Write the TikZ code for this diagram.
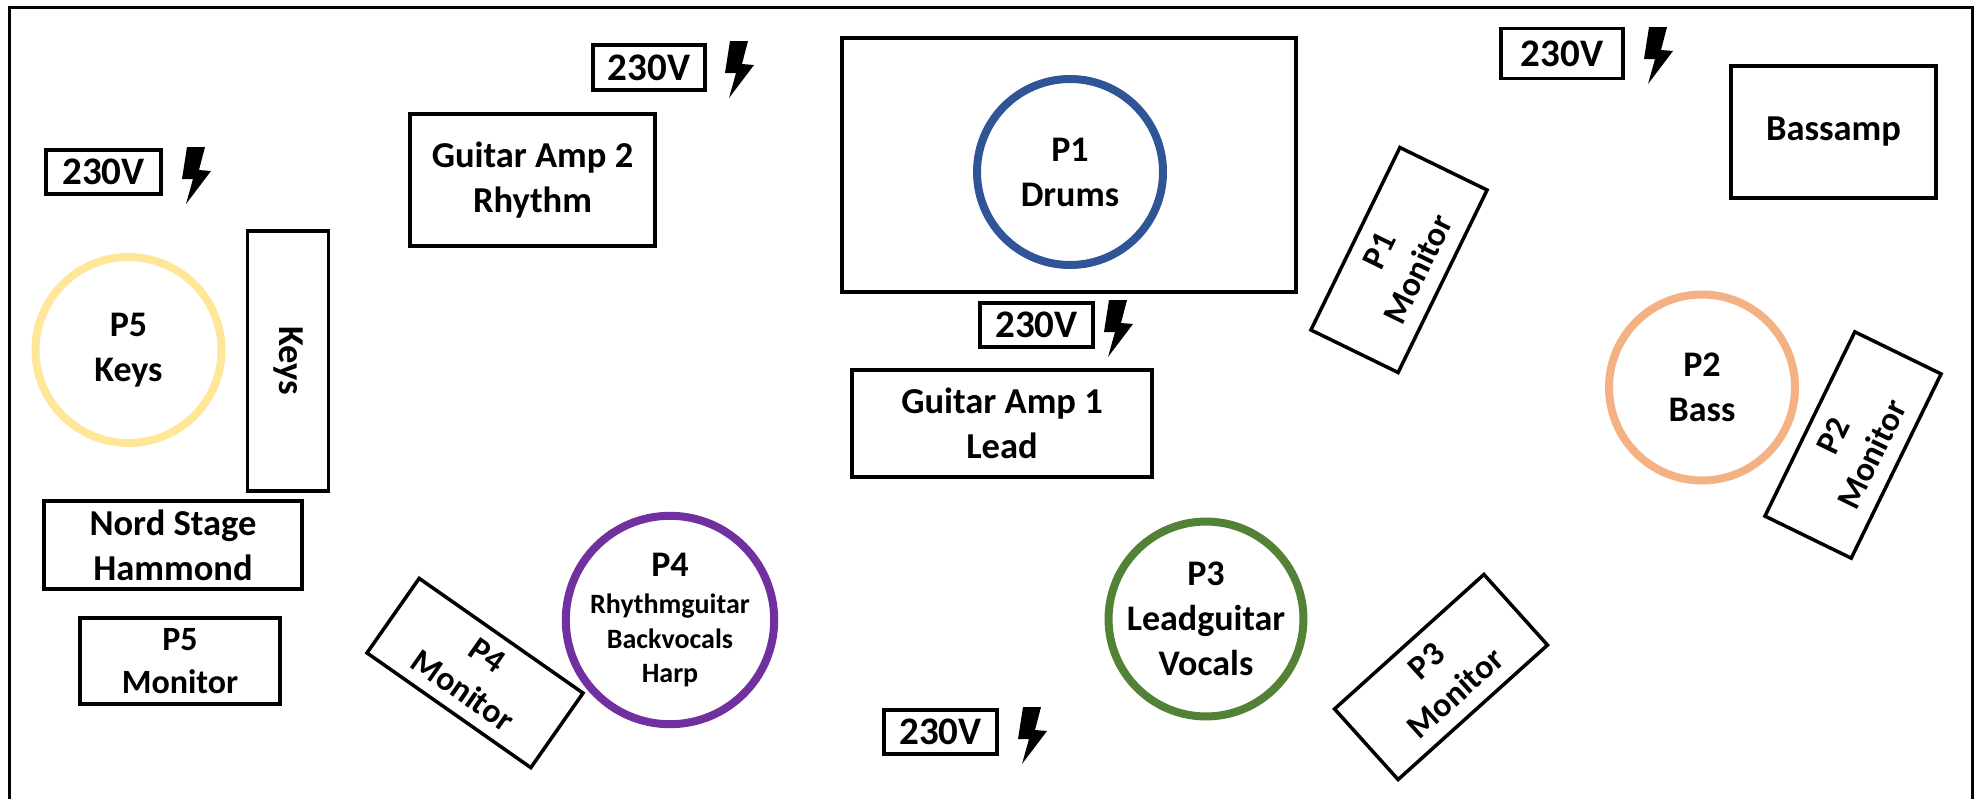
\documentclass[tikz,border=0pt]{standalone}
\usepackage{fontspec}
\setmainfont{Carlito}
\definecolor{pblue}{HTML}{2F5597}
\definecolor{porange}{HTML}{F4B183}
\definecolor{pgreen}{HTML}{538135}
\definecolor{ppurple}{HTML}{7030A0}
\definecolor{pyellow}{HTML}{FFE699}
\begin{document}
\begin{tikzpicture}[x=1pt,y=-1pt,
  box/.style={draw, line width=3.5pt, inner sep=0pt, align=center, font=\bfseries\fontsize{36.5}{45}\selectfont},
  mon/.style={box, font=\bfseries\fontsize{34}{43}\selectfont},
  volt/.style={draw, line width=3.5pt, inner sep=0pt, font=\bfseries\fontsize{39}{44}\selectfont},
  person/.style={circle, draw, line width=8pt, minimum size=186pt, inner sep=0pt, align=center, font=\bfseries\fontsize{36}{45}\selectfont},
  bolt/.pic={\fill (5,1) -- (23,1) -- (17,24) -- (29,25) -- (4,58) -- (11,33) -- (0,33) -- cycle;}]
\useasboundingbox (0,0) rectangle (1977,798);
\draw[line width=3pt] (9,812) -- (9,7) -- (1972,7) -- (1972,812);

% power outlets
\node[volt, minimum width=115pt, minimum height=44pt] (v1) at (103.5,172) {230V};
\pic at (182,146) {bolt};
\node[volt, minimum width=112pt, minimum height=45pt] (v2) at (649,67.5) {230V};
\pic at (725,40) {bolt};
\node[volt, minimum width=122pt, minimum height=50pt] (v3) at (1562,53.5) {230V};
\pic at (1644,26) {bolt};
\node[volt, minimum width=113pt, minimum height=44pt] (v4) at (1036.5,325) {230V};
\pic at (1104,299) {bolt};
\node[volt, minimum width=113pt, minimum height=44pt] (v5) at (940.5,732) {230V};
\pic at (1018,706) {bolt};

% equipment
\node[box, minimum width=245pt, minimum height=132pt] (ga2) at (532.5,180) {Guitar Amp 2\\Rhythm};
\node[box, minimum width=454pt, minimum height=254pt] (drumriser) at (1069,165) {};
\node[box, minimum width=300pt, minimum height=107pt] (ga1) at (1002,423.5) {Guitar Amp 1\\Lead};
\node[box, minimum width=205pt, minimum height=132pt] (bassamp) at (1833.5,132) {Bassamp};
\node[box, minimum width=260pt, minimum height=81pt, rotate=-90] (keys) at (288,361) {Keys};
\node[box, minimum width=258pt, minimum height=88pt] (nord) at (173,545) {Nord Stage\\Hammond};
\node[mon, minimum width=200pt, minimum height=86pt] (p5mon) at (180,661) {P5\\Monitor};

% monitors
\node[mon, minimum width=203pt, minimum height=97pt, rotate=64] (p1mon) at (1399,260) {P1\\Monitor};
\node[mon, minimum width=205pt, minimum height=96pt, rotate=64] (p2mon) at (1853,445) {P2\\Monitor};
\node[mon, minimum width=201pt, minimum height=95pt, rotate=42] (p3mon) at (1441,677) {P3\\Monitor};
\node[mon, minimum width=200pt, minimum height=91pt, rotate=-35] (p4mon) at (475,673) {P4\\Monitor};

% musicians
\node[person, draw=pblue] (p1) at (1070,172) {P1\\Drums};
\node[person, draw=porange] (p2) at (1702,387.5) {P2\\Bass};
\node[person, draw=pgreen] (p3) at (1206,619) {P3\\Leadguitar\\Vocals};
\node[person, draw=ppurple, font=\bfseries\fontsize{28}{34.5}\selectfont] (p4) at (670,620) {{\fontsize{36}{34.5}\selectfont P4}\\[3pt]Rhythmguitar\\Backvocals\\Harp};
\node[person, draw=pyellow] (p5) at (128.5,350) {P5\\Keys};
\end{tikzpicture}
\end{document}
